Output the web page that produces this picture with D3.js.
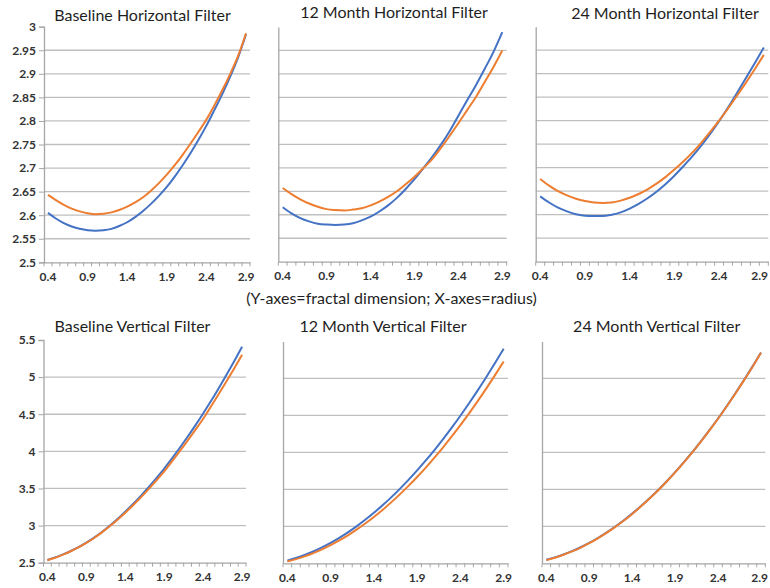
<!DOCTYPE html>
<html>
<head>
<meta charset="utf-8">
<script src="https://cdn.jsdelivr.net/npm/d3@7"></script>
<style>
  body { margin: 0; background: #fff; }
  svg { display: block; }
  text { font-family: Lato, "Liberation Sans", sans-serif; }
</style>
</head>
<body>
<svg id="chart" width="770" height="588"></svg>
<script>
// radius categories (x) and labelled ticks
const radius = [0.4, 0.5, 0.6, 0.7, 0.8, 0.9, 1.0, 1.1, 1.2, 1.3, 1.4, 1.5, 1.6,
                1.7, 1.8, 1.9, 2.0, 2.1, 2.2, 2.3, 2.4, 2.5, 2.6, 2.7, 2.8, 2.9];
const radiusLabels = [0.4, 0.9, 1.4, 1.9, 2.4, 2.9];

const horizTicks = [2.5, 2.55, 2.6, 2.65, 2.7, 2.75, 2.8, 2.85, 2.9, 2.95, 3];
const vertTicks = [2.5, 3, 3.5, 4, 4.5, 5, 5.5];

const titles = ["Baseline Horizontal Filter", "12 Month Horizontal Filter", "24 Month Horizontal Filter",
                "Baseline Vertical Filter", "12 Month Vertical Filter", "24 Month Vertical Filter"];
const caption = "(Y-axes=fractal dimension; X-axes=radius)";

// fractal dimension
const baseHorizBlue = [2.605, 2.593, 2.583, 2.576, 2.571, 2.568, 2.567, 2.568, 2.571, 2.577, 2.585, 2.596, 2.609,
                       2.624, 2.641, 2.660, 2.682, 2.706, 2.732, 2.760, 2.790, 2.823, 2.857, 2.894, 2.935, 2.984];
const baseHorizOrange = [2.643, 2.632, 2.622, 2.614, 2.608, 2.604, 2.602, 2.603, 2.606, 2.611, 2.618, 2.627, 2.638,
                         2.652, 2.668, 2.686, 2.706, 2.728, 2.752, 2.777, 2.803, 2.833, 2.865, 2.900, 2.938, 2.986];

const m12HorizBlue = [2.616, 2.603, 2.593, 2.586, 2.581, 2.579, 2.578, 2.579, 2.582, 2.588, 2.596, 2.607, 2.620,
                      2.636, 2.655, 2.676, 2.699, 2.723, 2.749, 2.778, 2.811, 2.844, 2.876, 2.911, 2.947, 2.989];
const m12HorizOrange = [2.657, 2.644, 2.633, 2.624, 2.617, 2.612, 2.610, 2.609, 2.611, 2.614, 2.620, 2.628, 2.638,
                        2.650, 2.665, 2.681, 2.699, 2.718, 2.742, 2.768, 2.795, 2.823, 2.851, 2.883, 2.915, 2.950];

const m24HorizBlue = [2.639, 2.626, 2.615, 2.607, 2.601, 2.598, 2.597, 2.597, 2.600, 2.605, 2.613, 2.623, 2.635,
                      2.649, 2.665, 2.683, 2.703, 2.724, 2.747, 2.772, 2.799, 2.828, 2.859, 2.891, 2.923, 2.956];
const m24HorizOrange = [2.676, 2.662, 2.650, 2.641, 2.634, 2.629, 2.626, 2.625, 2.626, 2.630, 2.636, 2.644, 2.654,
                        2.666, 2.680, 2.696, 2.713, 2.732, 2.753, 2.776, 2.800, 2.826, 2.853, 2.881, 2.910, 2.940];

const baseVertBlue = [2.536, 2.571, 2.612, 2.658, 2.710, 2.770, 2.838, 2.914, 2.998, 3.090, 3.188, 3.292, 3.401,
                      3.516, 3.640, 3.768, 3.905, 4.048, 4.196, 4.350, 4.510, 4.677, 4.851, 5.031, 5.217, 5.410];
const baseVertOrange = [2.532, 2.567, 2.608, 2.654, 2.706, 2.766, 2.833, 2.908, 2.990, 3.079, 3.174, 3.274, 3.380,
                        3.491, 3.608, 3.730, 3.864, 4.002, 4.144, 4.290, 4.440, 4.604, 4.772, 4.944, 5.120, 5.300];

const m12VertBlue = [2.536, 2.571, 2.612, 2.660, 2.715, 2.776, 2.844, 2.919, 3.000, 3.088, 3.183, 3.284, 3.392,
                     3.507, 3.628, 3.756, 3.891, 4.032, 4.180, 4.335, 4.496, 4.664, 4.839, 5.020, 5.208, 5.402];
const m12VertOrange = [2.525, 2.556, 2.594, 2.638, 2.689, 2.746, 2.809, 2.879, 2.955, 3.038, 3.127, 3.222, 3.324,
                       3.432, 3.547, 3.668, 3.795, 3.929, 4.069, 4.216, 4.369, 4.528, 4.694, 4.866, 5.045, 5.230];

const m24VertBlue = [2.547, 2.580, 2.619, 2.665, 2.717, 2.776, 2.842, 2.915, 2.994, 3.079, 3.172, 3.271, 3.376,
                     3.488, 3.607, 3.733, 3.865, 4.003, 4.149, 4.301, 4.459, 4.625, 4.797, 4.975, 5.160, 5.352];
const m24VertOrange = [2.543, 2.576, 2.615, 2.661, 2.713, 2.772, 2.838, 2.911, 2.990, 3.075, 3.168, 3.267, 3.372,
                       3.484, 3.603, 3.729, 3.861, 3.999, 4.145, 4.297, 4.455, 4.621, 4.793, 4.971, 5.156, 5.347];

const blueColor = "#4472c4";
const orangeColor = "#ed7d31";

// where each small chart sits on the page
const panels = [
  { title: titles[0], blue: baseHorizBlue, orange: baseHorizOrange, ticks: horizTicks,
    left: 44, right: 250, top: 26.7, bottom: 262.3, titleX: 142.5, titleY: 20.5, yLabels: true },
  { title: titles[1], blue: m12HorizBlue, orange: m12HorizOrange, ticks: horizTicks,
    left: 278.3, right: 506.7, top: 27, bottom: 261.7, titleX: 394, titleY: 17.5, yLabels: false },
  { title: titles[2], blue: m24HorizBlue, orange: m24HorizOrange, ticks: horizTicks,
    left: 535.7, right: 768.3, top: 26.7, bottom: 261.7, titleX: 665, titleY: 19, yLabels: false },
  { title: titles[3], blue: baseVertBlue, orange: baseVertOrange, ticks: vertTicks,
    left: 43.5, right: 246, top: 340, bottom: 562.7, titleX: 132.5, titleY: 331.5, yLabels: true },
  { title: titles[4], blue: m12VertBlue, orange: m12VertOrange, ticks: vertTicks,
    left: 283, right: 508, top: 341.5, bottom: 563.3, titleX: 383, titleY: 331.5, yLabels: false },
  { title: titles[5], blue: m24VertBlue, orange: m24VertOrange, ticks: vertTicks,
    left: 542, right: 765.3, top: 341.5, bottom: 563.3, titleX: 656.7, titleY: 332.3, yLabels: false }
];

const svg = d3.select("#chart");

function drawPanel(p) {
  let x = d3.scaleBand()
    .domain(radius)
    .range([p.left, p.right])
    .padding(0);

  let y = d3.scaleLinear()
    .domain(d3.extent(p.ticks))
    .range([p.bottom, p.top]);

  let g = svg.append("g");

  // gridlines (none at the top value)
  g.selectAll(".grid")
    .data(p.ticks.slice(1, -1))
    .enter()
    .append("line")
      .attr("x1", p.left)
      .attr("x2", p.right)
      .attr("y1", d => y(d))
      .attr("y2", d => y(d))
      .style("stroke", "#bfbfbf")
      .style("stroke-width", 1.3);

  // y axis
  let yAxis = d3.axisLeft(y)
    .tickValues(p.yLabels ? p.ticks : [])
    .tickSize(p.yLabels ? 5 : 0)
    .tickPadding(3)
    .tickFormat(d => String(d));

  let ya = g.append("g")
    .attr("transform", "translate(" + p.left + ",0)")
    .call(yAxis);
  ya.select(".domain").style("stroke", "#a6a6a6").style("stroke-width", 1.3);
  ya.selectAll(".tick line").style("stroke", "#a6a6a6");
  ya.selectAll(".tick text")
    .style("font-size", "12px")
    .style("font-weight", "bold")
    .style("fill", "#333");

  // x axis: labels at category centres, small ticks at category edges
  let xAxis = d3.axisBottom(x)
    .tickValues(radiusLabels)
    .tickSize(0)
    .tickPadding(10)
    .tickFormat(d => d.toFixed(1));

  let xa = g.append("g")
    .attr("transform", "translate(0," + p.bottom + ")")
    .call(xAxis);
  xa.select(".domain").style("stroke", "#a6a6a6").style("stroke-width", 1.3);
  xa.selectAll(".tick text")
    .style("font-size", "12px")
    .style("font-weight", "bold")
    .style("fill", "#333");

  // keep the last label inside the page
  xa.selectAll(".tick text").each(function() {
    let box = this.getBoundingClientRect();
    if (box.right > 768) {
      d3.select(this).attr("dx", 768 - box.right);
    }
  });

  let edges = radius.map(r => x(r)).concat([x.range()[1]]);
  xa.selectAll(".minor")
    .data(edges)
    .enter()
    .append("line")
      .attr("x1", d => d)
      .attr("x2", d => d)
      .attr("y1", 0)
      .attr("y2", 4)
      .style("stroke", "#a6a6a6");

  // series
  let line = d3.line()
    .x((d, i) => x(radius[i]) + x.bandwidth() / 2)
    .y(d => y(d))
    .curve(d3.curveMonotoneX);

  g.append("path")
    .datum(p.blue)
    .attr("d", line)
    .style("fill", "none")
    .style("stroke", blueColor)
    .style("stroke-width", 2);

  g.append("path")
    .datum(p.orange)
    .attr("d", line)
    .style("fill", "none")
    .style("stroke", orangeColor)
    .style("stroke-width", 2);

  // title
  g.append("text")
    .attr("x", p.titleX)
    .attr("y", p.titleY)
    .attr("text-anchor", "middle")
    .style("font-size", "16px")
    .style("fill", "#1f1f1f")
    .text(p.title);
}

panels.forEach(drawPanel);

svg.append("text")
  .attr("x", 391.5)
  .attr("y", 304)
  .attr("text-anchor", "middle")
  .style("font-size", "16px")
  .style("fill", "#1f1f1f")
  .text(caption);
</script>
</body>
</html>
